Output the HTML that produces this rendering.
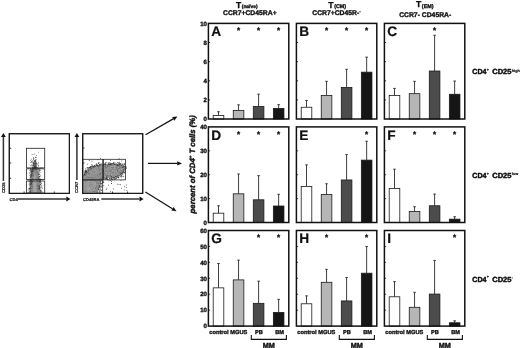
<!DOCTYPE html><html><head><meta charset="utf-8"><style>html,body{margin:0;padding:0;background:#fff}svg{display:block;filter:blur(.35px)}text{stroke:#111;stroke-width:.34px;stroke-linejoin:round}text.sm{stroke-width:.2px}</style></head><body><svg width="520" height="348" viewBox="0 0 520 348" font-family="Liberation Sans, Arial, sans-serif" font-weight="bold" fill="#111" text-rendering="geometricPrecision">
<rect width="520" height="348" fill="#fff"/>
<line x1="218.50" y1="115.46" x2="218.50" y2="111.73" stroke="#2a2a2a" stroke-width="0.9"/>
<line x1="217.20" y1="111.73" x2="219.80" y2="111.73" stroke="#2a2a2a" stroke-width="0.9"/>
<rect x="213.20" y="115.46" width="10.6" height="3.54" fill="#ffffff" stroke="#1a1a1a" stroke-width="0.8"/>
<line x1="238.55" y1="110.40" x2="238.55" y2="104.85" stroke="#2a2a2a" stroke-width="0.9"/>
<line x1="237.25" y1="104.85" x2="239.85" y2="104.85" stroke="#2a2a2a" stroke-width="0.9"/>
<rect x="233.25" y="110.40" width="10.6" height="8.60" fill="#b6b6b6" stroke="#1a1a1a" stroke-width="0.8"/>
<line x1="258.60" y1="106.57" x2="258.60" y2="94.14" stroke="#2a2a2a" stroke-width="0.9"/>
<line x1="257.30" y1="94.14" x2="259.90" y2="94.14" stroke="#2a2a2a" stroke-width="0.9"/>
<rect x="253.30" y="106.57" width="10.6" height="12.43" fill="#4c4c4c" stroke="#1a1a1a" stroke-width="0.8"/>
<line x1="278.65" y1="108.48" x2="278.65" y2="104.66" stroke="#2a2a2a" stroke-width="0.9"/>
<line x1="277.35" y1="104.66" x2="279.95" y2="104.66" stroke="#2a2a2a" stroke-width="0.9"/>
<rect x="273.35" y="108.48" width="10.6" height="10.52" fill="#151515" stroke="#1a1a1a" stroke-width="0.8"/>
<rect x="208.40" y="23.40" width="80.4" height="95.6" fill="none" stroke="#111" stroke-width="1.5"/>
<line x1="208.40" y1="99.88" x2="210.10" y2="99.88" stroke="#111" stroke-width="0.8"/>
<line x1="208.40" y1="80.76" x2="210.10" y2="80.76" stroke="#111" stroke-width="0.8"/>
<line x1="208.40" y1="61.64" x2="210.10" y2="61.64" stroke="#111" stroke-width="0.8"/>
<line x1="208.40" y1="42.52" x2="210.10" y2="42.52" stroke="#111" stroke-width="0.8"/>
<text x="211.25" y="36.30" font-size="13.7" style="stroke-width:.2px">A</text>
<text x="238.55" y="33.00" font-size="8" text-anchor="middle">*</text>
<text x="258.60" y="33.00" font-size="8" text-anchor="middle">*</text>
<text x="278.65" y="33.00" font-size="8" text-anchor="middle">*</text>
<line x1="306.50" y1="107.24" x2="306.50" y2="100.45" stroke="#2a2a2a" stroke-width="0.9"/>
<line x1="305.20" y1="100.45" x2="307.80" y2="100.45" stroke="#2a2a2a" stroke-width="0.9"/>
<rect x="301.20" y="107.24" width="10.6" height="11.76" fill="#ffffff" stroke="#1a1a1a" stroke-width="0.8"/>
<line x1="326.55" y1="95.48" x2="326.55" y2="81.33" stroke="#2a2a2a" stroke-width="0.9"/>
<line x1="325.25" y1="81.33" x2="327.85" y2="81.33" stroke="#2a2a2a" stroke-width="0.9"/>
<rect x="321.25" y="95.48" width="10.6" height="23.52" fill="#b6b6b6" stroke="#1a1a1a" stroke-width="0.8"/>
<line x1="346.60" y1="87.45" x2="346.60" y2="69.29" stroke="#2a2a2a" stroke-width="0.9"/>
<line x1="345.30" y1="69.29" x2="347.90" y2="69.29" stroke="#2a2a2a" stroke-width="0.9"/>
<rect x="341.30" y="87.45" width="10.6" height="31.55" fill="#4c4c4c" stroke="#1a1a1a" stroke-width="0.8"/>
<line x1="366.65" y1="72.16" x2="366.65" y2="57.15" stroke="#2a2a2a" stroke-width="0.9"/>
<line x1="365.35" y1="57.15" x2="367.95" y2="57.15" stroke="#2a2a2a" stroke-width="0.9"/>
<rect x="361.35" y="72.16" width="10.6" height="46.84" fill="#151515" stroke="#1a1a1a" stroke-width="0.8"/>
<rect x="296.40" y="23.40" width="80.4" height="95.6" fill="none" stroke="#111" stroke-width="1.5"/>
<line x1="296.40" y1="99.88" x2="298.10" y2="99.88" stroke="#111" stroke-width="0.8"/>
<line x1="296.40" y1="80.76" x2="298.10" y2="80.76" stroke="#111" stroke-width="0.8"/>
<line x1="296.40" y1="61.64" x2="298.10" y2="61.64" stroke="#111" stroke-width="0.8"/>
<line x1="296.40" y1="42.52" x2="298.10" y2="42.52" stroke="#111" stroke-width="0.8"/>
<text x="299.25" y="36.30" font-size="13.7" style="stroke-width:.2px">B</text>
<text x="326.55" y="33.00" font-size="8" text-anchor="middle">*</text>
<text x="346.60" y="33.00" font-size="8" text-anchor="middle">*</text>
<text x="366.65" y="33.00" font-size="8" text-anchor="middle">*</text>
<line x1="394.50" y1="95.48" x2="394.50" y2="88.41" stroke="#2a2a2a" stroke-width="0.9"/>
<line x1="393.20" y1="88.41" x2="395.80" y2="88.41" stroke="#2a2a2a" stroke-width="0.9"/>
<rect x="389.20" y="95.48" width="10.6" height="23.52" fill="#ffffff" stroke="#1a1a1a" stroke-width="0.8"/>
<line x1="414.55" y1="93.67" x2="414.55" y2="81.33" stroke="#2a2a2a" stroke-width="0.9"/>
<line x1="413.25" y1="81.33" x2="415.85" y2="81.33" stroke="#2a2a2a" stroke-width="0.9"/>
<rect x="409.25" y="93.67" width="10.6" height="25.33" fill="#b6b6b6" stroke="#1a1a1a" stroke-width="0.8"/>
<line x1="434.60" y1="71.01" x2="434.60" y2="35.25" stroke="#2a2a2a" stroke-width="0.9"/>
<line x1="433.30" y1="35.25" x2="435.90" y2="35.25" stroke="#2a2a2a" stroke-width="0.9"/>
<rect x="429.30" y="71.01" width="10.6" height="47.99" fill="#4c4c4c" stroke="#1a1a1a" stroke-width="0.8"/>
<line x1="454.65" y1="94.24" x2="454.65" y2="81.05" stroke="#2a2a2a" stroke-width="0.9"/>
<line x1="453.35" y1="81.05" x2="455.95" y2="81.05" stroke="#2a2a2a" stroke-width="0.9"/>
<rect x="449.35" y="94.24" width="10.6" height="24.76" fill="#151515" stroke="#1a1a1a" stroke-width="0.8"/>
<rect x="384.40" y="23.40" width="80.4" height="95.6" fill="none" stroke="#111" stroke-width="1.5"/>
<line x1="384.40" y1="99.88" x2="386.10" y2="99.88" stroke="#111" stroke-width="0.8"/>
<line x1="384.40" y1="80.76" x2="386.10" y2="80.76" stroke="#111" stroke-width="0.8"/>
<line x1="384.40" y1="61.64" x2="386.10" y2="61.64" stroke="#111" stroke-width="0.8"/>
<line x1="384.40" y1="42.52" x2="386.10" y2="42.52" stroke="#111" stroke-width="0.8"/>
<text x="387.25" y="36.30" font-size="13.7" style="stroke-width:.2px">C</text>
<text x="434.60" y="33.00" font-size="8" text-anchor="middle">*</text>
<text x="207.00" y="121.25" font-size="6.1" text-anchor="end">0</text>
<text x="207.00" y="102.13" font-size="6.1" text-anchor="end">2</text>
<text x="207.00" y="83.01" font-size="6.1" text-anchor="end">4</text>
<text x="207.00" y="63.89" font-size="6.1" text-anchor="end">6</text>
<text x="207.00" y="44.77" font-size="6.1" text-anchor="end">8</text>
<text x="207.00" y="25.65" font-size="6.1" text-anchor="end">10</text>
<line x1="218.50" y1="213.18" x2="218.50" y2="205.77" stroke="#2a2a2a" stroke-width="0.9"/>
<line x1="217.20" y1="205.77" x2="219.80" y2="205.77" stroke="#2a2a2a" stroke-width="0.9"/>
<rect x="213.20" y="213.18" width="10.6" height="9.32" fill="#ffffff" stroke="#1a1a1a" stroke-width="0.8"/>
<line x1="238.55" y1="193.82" x2="238.55" y2="173.98" stroke="#2a2a2a" stroke-width="0.9"/>
<line x1="237.25" y1="173.98" x2="239.85" y2="173.98" stroke="#2a2a2a" stroke-width="0.9"/>
<rect x="233.25" y="193.82" width="10.6" height="28.68" fill="#b6b6b6" stroke="#1a1a1a" stroke-width="0.8"/>
<line x1="258.60" y1="199.80" x2="258.60" y2="175.66" stroke="#2a2a2a" stroke-width="0.9"/>
<line x1="257.30" y1="175.66" x2="259.90" y2="175.66" stroke="#2a2a2a" stroke-width="0.9"/>
<rect x="253.30" y="199.80" width="10.6" height="22.70" fill="#4c4c4c" stroke="#1a1a1a" stroke-width="0.8"/>
<line x1="278.65" y1="206.01" x2="278.65" y2="194.30" stroke="#2a2a2a" stroke-width="0.9"/>
<line x1="277.35" y1="194.30" x2="279.95" y2="194.30" stroke="#2a2a2a" stroke-width="0.9"/>
<rect x="273.35" y="206.01" width="10.6" height="16.49" fill="#151515" stroke="#1a1a1a" stroke-width="0.8"/>
<rect x="208.40" y="126.90" width="80.4" height="95.6" fill="none" stroke="#111" stroke-width="1.5"/>
<line x1="208.40" y1="198.60" x2="210.10" y2="198.60" stroke="#111" stroke-width="0.8"/>
<line x1="208.40" y1="174.70" x2="210.10" y2="174.70" stroke="#111" stroke-width="0.8"/>
<line x1="208.40" y1="150.80" x2="210.10" y2="150.80" stroke="#111" stroke-width="0.8"/>
<text x="211.25" y="139.80" font-size="13.7" style="stroke-width:.2px">D</text>
<text x="238.55" y="136.50" font-size="8" text-anchor="middle">*</text>
<text x="258.60" y="136.50" font-size="8" text-anchor="middle">*</text>
<text x="278.65" y="136.50" font-size="8" text-anchor="middle">*</text>
<line x1="306.50" y1="186.41" x2="306.50" y2="164.90" stroke="#2a2a2a" stroke-width="0.9"/>
<line x1="305.20" y1="164.90" x2="307.80" y2="164.90" stroke="#2a2a2a" stroke-width="0.9"/>
<rect x="301.20" y="186.41" width="10.6" height="36.09" fill="#ffffff" stroke="#1a1a1a" stroke-width="0.8"/>
<line x1="326.55" y1="194.54" x2="326.55" y2="183.78" stroke="#2a2a2a" stroke-width="0.9"/>
<line x1="325.25" y1="183.78" x2="327.85" y2="183.78" stroke="#2a2a2a" stroke-width="0.9"/>
<rect x="321.25" y="194.54" width="10.6" height="27.96" fill="#b6b6b6" stroke="#1a1a1a" stroke-width="0.8"/>
<line x1="346.60" y1="179.96" x2="346.60" y2="154.62" stroke="#2a2a2a" stroke-width="0.9"/>
<line x1="345.30" y1="154.62" x2="347.90" y2="154.62" stroke="#2a2a2a" stroke-width="0.9"/>
<rect x="341.30" y="179.96" width="10.6" height="42.54" fill="#4c4c4c" stroke="#1a1a1a" stroke-width="0.8"/>
<line x1="366.65" y1="160.12" x2="366.65" y2="141.24" stroke="#2a2a2a" stroke-width="0.9"/>
<line x1="365.35" y1="141.24" x2="367.95" y2="141.24" stroke="#2a2a2a" stroke-width="0.9"/>
<rect x="361.35" y="160.12" width="10.6" height="62.38" fill="#151515" stroke="#1a1a1a" stroke-width="0.8"/>
<rect x="296.40" y="126.90" width="80.4" height="95.6" fill="none" stroke="#111" stroke-width="1.5"/>
<line x1="296.40" y1="198.60" x2="298.10" y2="198.60" stroke="#111" stroke-width="0.8"/>
<line x1="296.40" y1="174.70" x2="298.10" y2="174.70" stroke="#111" stroke-width="0.8"/>
<line x1="296.40" y1="150.80" x2="298.10" y2="150.80" stroke="#111" stroke-width="0.8"/>
<text x="299.25" y="139.80" font-size="13.7" style="stroke-width:.2px">E</text>
<text x="366.65" y="136.50" font-size="8" text-anchor="middle">*</text>
<line x1="394.50" y1="188.44" x2="394.50" y2="169.20" stroke="#2a2a2a" stroke-width="0.9"/>
<line x1="393.20" y1="169.20" x2="395.80" y2="169.20" stroke="#2a2a2a" stroke-width="0.9"/>
<rect x="389.20" y="188.44" width="10.6" height="34.06" fill="#ffffff" stroke="#1a1a1a" stroke-width="0.8"/>
<line x1="414.55" y1="211.51" x2="414.55" y2="206.73" stroke="#2a2a2a" stroke-width="0.9"/>
<line x1="413.25" y1="206.73" x2="415.85" y2="206.73" stroke="#2a2a2a" stroke-width="0.9"/>
<rect x="409.25" y="211.51" width="10.6" height="10.99" fill="#b6b6b6" stroke="#1a1a1a" stroke-width="0.8"/>
<line x1="434.60" y1="205.77" x2="434.60" y2="194.06" stroke="#2a2a2a" stroke-width="0.9"/>
<line x1="433.30" y1="194.06" x2="435.90" y2="194.06" stroke="#2a2a2a" stroke-width="0.9"/>
<rect x="429.30" y="205.77" width="10.6" height="16.73" fill="#4c4c4c" stroke="#1a1a1a" stroke-width="0.8"/>
<line x1="454.65" y1="219.15" x2="454.65" y2="216.76" stroke="#2a2a2a" stroke-width="0.9"/>
<line x1="453.35" y1="216.76" x2="455.95" y2="216.76" stroke="#2a2a2a" stroke-width="0.9"/>
<rect x="449.35" y="219.15" width="10.6" height="3.35" fill="#151515" stroke="#1a1a1a" stroke-width="0.8"/>
<rect x="384.40" y="126.90" width="80.4" height="95.6" fill="none" stroke="#111" stroke-width="1.5"/>
<line x1="384.40" y1="198.60" x2="386.10" y2="198.60" stroke="#111" stroke-width="0.8"/>
<line x1="384.40" y1="174.70" x2="386.10" y2="174.70" stroke="#111" stroke-width="0.8"/>
<line x1="384.40" y1="150.80" x2="386.10" y2="150.80" stroke="#111" stroke-width="0.8"/>
<text x="387.25" y="139.80" font-size="13.7" style="stroke-width:.2px">F</text>
<text x="414.55" y="136.50" font-size="8" text-anchor="middle">*</text>
<text x="434.60" y="136.50" font-size="8" text-anchor="middle">*</text>
<text x="454.65" y="136.50" font-size="8" text-anchor="middle">*</text>
<text x="207.00" y="224.75" font-size="6.1" text-anchor="end">0</text>
<text x="207.00" y="200.85" font-size="6.1" text-anchor="end">10</text>
<text x="207.00" y="176.95" font-size="6.1" text-anchor="end">20</text>
<text x="207.00" y="153.05" font-size="6.1" text-anchor="end">30</text>
<text x="207.00" y="129.15" font-size="6.1" text-anchor="end">40</text>
<line x1="218.50" y1="287.86" x2="218.50" y2="263.48" stroke="#2a2a2a" stroke-width="0.9"/>
<line x1="217.20" y1="263.48" x2="219.80" y2="263.48" stroke="#2a2a2a" stroke-width="0.9"/>
<rect x="213.20" y="287.86" width="10.6" height="38.24" fill="#ffffff" stroke="#1a1a1a" stroke-width="0.8"/>
<line x1="238.55" y1="279.89" x2="238.55" y2="260.14" stroke="#2a2a2a" stroke-width="0.9"/>
<line x1="237.25" y1="260.14" x2="239.85" y2="260.14" stroke="#2a2a2a" stroke-width="0.9"/>
<rect x="233.25" y="279.89" width="10.6" height="46.21" fill="#b6b6b6" stroke="#1a1a1a" stroke-width="0.8"/>
<line x1="258.60" y1="303.32" x2="258.60" y2="281.17" stroke="#2a2a2a" stroke-width="0.9"/>
<line x1="257.30" y1="281.17" x2="259.90" y2="281.17" stroke="#2a2a2a" stroke-width="0.9"/>
<rect x="253.30" y="303.32" width="10.6" height="22.78" fill="#4c4c4c" stroke="#1a1a1a" stroke-width="0.8"/>
<line x1="278.65" y1="312.40" x2="278.65" y2="299.33" stroke="#2a2a2a" stroke-width="0.9"/>
<line x1="277.35" y1="299.33" x2="279.95" y2="299.33" stroke="#2a2a2a" stroke-width="0.9"/>
<rect x="273.35" y="312.40" width="10.6" height="13.70" fill="#151515" stroke="#1a1a1a" stroke-width="0.8"/>
<rect x="208.40" y="230.50" width="80.4" height="95.6" fill="none" stroke="#111" stroke-width="1.5"/>
<line x1="208.40" y1="310.17" x2="210.10" y2="310.17" stroke="#111" stroke-width="0.8"/>
<line x1="208.40" y1="294.23" x2="210.10" y2="294.23" stroke="#111" stroke-width="0.8"/>
<line x1="208.40" y1="278.30" x2="210.10" y2="278.30" stroke="#111" stroke-width="0.8"/>
<line x1="208.40" y1="262.37" x2="210.10" y2="262.37" stroke="#111" stroke-width="0.8"/>
<line x1="208.40" y1="246.43" x2="210.10" y2="246.43" stroke="#111" stroke-width="0.8"/>
<text x="211.25" y="243.40" font-size="13.7" style="stroke-width:.2px">G</text>
<text x="258.60" y="240.10" font-size="8" text-anchor="middle">*</text>
<text x="278.65" y="240.10" font-size="8" text-anchor="middle">*</text>
<line x1="306.50" y1="303.79" x2="306.50" y2="295.83" stroke="#2a2a2a" stroke-width="0.9"/>
<line x1="305.20" y1="295.83" x2="307.80" y2="295.83" stroke="#2a2a2a" stroke-width="0.9"/>
<rect x="301.20" y="303.79" width="10.6" height="22.31" fill="#ffffff" stroke="#1a1a1a" stroke-width="0.8"/>
<line x1="326.55" y1="282.28" x2="326.55" y2="269.38" stroke="#2a2a2a" stroke-width="0.9"/>
<line x1="325.25" y1="269.38" x2="327.85" y2="269.38" stroke="#2a2a2a" stroke-width="0.9"/>
<rect x="321.25" y="282.28" width="10.6" height="43.82" fill="#b6b6b6" stroke="#1a1a1a" stroke-width="0.8"/>
<line x1="346.60" y1="300.93" x2="346.60" y2="277.50" stroke="#2a2a2a" stroke-width="0.9"/>
<line x1="345.30" y1="277.50" x2="347.90" y2="277.50" stroke="#2a2a2a" stroke-width="0.9"/>
<rect x="341.30" y="300.93" width="10.6" height="25.17" fill="#4c4c4c" stroke="#1a1a1a" stroke-width="0.8"/>
<line x1="366.65" y1="273.20" x2="366.65" y2="246.59" stroke="#2a2a2a" stroke-width="0.9"/>
<line x1="365.35" y1="246.59" x2="367.95" y2="246.59" stroke="#2a2a2a" stroke-width="0.9"/>
<rect x="361.35" y="273.20" width="10.6" height="52.90" fill="#151515" stroke="#1a1a1a" stroke-width="0.8"/>
<rect x="296.40" y="230.50" width="80.4" height="95.6" fill="none" stroke="#111" stroke-width="1.5"/>
<line x1="296.40" y1="310.17" x2="298.10" y2="310.17" stroke="#111" stroke-width="0.8"/>
<line x1="296.40" y1="294.23" x2="298.10" y2="294.23" stroke="#111" stroke-width="0.8"/>
<line x1="296.40" y1="278.30" x2="298.10" y2="278.30" stroke="#111" stroke-width="0.8"/>
<line x1="296.40" y1="262.37" x2="298.10" y2="262.37" stroke="#111" stroke-width="0.8"/>
<line x1="296.40" y1="246.43" x2="298.10" y2="246.43" stroke="#111" stroke-width="0.8"/>
<text x="299.25" y="243.40" font-size="13.7" style="stroke-width:.2px">H</text>
<text x="326.55" y="240.10" font-size="8" text-anchor="middle">*</text>
<text x="366.65" y="240.10" font-size="8" text-anchor="middle">*</text>
<line x1="394.50" y1="296.78" x2="394.50" y2="281.65" stroke="#2a2a2a" stroke-width="0.9"/>
<line x1="393.20" y1="281.65" x2="395.80" y2="281.65" stroke="#2a2a2a" stroke-width="0.9"/>
<rect x="389.20" y="296.78" width="10.6" height="29.32" fill="#ffffff" stroke="#1a1a1a" stroke-width="0.8"/>
<line x1="414.55" y1="307.30" x2="414.55" y2="292.32" stroke="#2a2a2a" stroke-width="0.9"/>
<line x1="413.25" y1="292.32" x2="415.85" y2="292.32" stroke="#2a2a2a" stroke-width="0.9"/>
<rect x="409.25" y="307.30" width="10.6" height="18.80" fill="#b6b6b6" stroke="#1a1a1a" stroke-width="0.8"/>
<line x1="434.60" y1="294.07" x2="434.60" y2="260.45" stroke="#2a2a2a" stroke-width="0.9"/>
<line x1="433.30" y1="260.45" x2="435.90" y2="260.45" stroke="#2a2a2a" stroke-width="0.9"/>
<rect x="429.30" y="294.07" width="10.6" height="32.03" fill="#4c4c4c" stroke="#1a1a1a" stroke-width="0.8"/>
<line x1="454.65" y1="322.75" x2="454.65" y2="320.84" stroke="#2a2a2a" stroke-width="0.9"/>
<line x1="453.35" y1="320.84" x2="455.95" y2="320.84" stroke="#2a2a2a" stroke-width="0.9"/>
<rect x="449.35" y="322.75" width="10.6" height="3.35" fill="#151515" stroke="#1a1a1a" stroke-width="0.8"/>
<rect x="384.40" y="230.50" width="80.4" height="95.6" fill="none" stroke="#111" stroke-width="1.5"/>
<line x1="384.40" y1="310.17" x2="386.10" y2="310.17" stroke="#111" stroke-width="0.8"/>
<line x1="384.40" y1="294.23" x2="386.10" y2="294.23" stroke="#111" stroke-width="0.8"/>
<line x1="384.40" y1="278.30" x2="386.10" y2="278.30" stroke="#111" stroke-width="0.8"/>
<line x1="384.40" y1="262.37" x2="386.10" y2="262.37" stroke="#111" stroke-width="0.8"/>
<line x1="384.40" y1="246.43" x2="386.10" y2="246.43" stroke="#111" stroke-width="0.8"/>
<text x="387.25" y="243.40" font-size="13.7" style="stroke-width:.2px">I</text>
<text x="454.65" y="240.10" font-size="8" text-anchor="middle">*</text>
<text x="207.00" y="328.35" font-size="6.1" text-anchor="end">0</text>
<text x="207.00" y="312.42" font-size="6.1" text-anchor="end">10</text>
<text x="207.00" y="296.48" font-size="6.1" text-anchor="end">20</text>
<text x="207.00" y="280.55" font-size="6.1" text-anchor="end">30</text>
<text x="207.00" y="264.62" font-size="6.1" text-anchor="end">40</text>
<text x="207.00" y="248.68" font-size="6.1" text-anchor="end">50</text>
<text x="207.00" y="232.75" font-size="6.1" text-anchor="end">60</text>
<text x="209.30" y="334.3" font-size="5.7">control</text>
<text x="230.30" y="334.3" font-size="5.7">MGUS</text>
<text x="255.00" y="334.3" font-size="5.7">PB</text>
<text x="275.20" y="334.3" font-size="5.7">BM</text>
<path d="M251.30 335 V339.4 H286.40 V335" fill="none" stroke="#111" stroke-width="1.1"/>
<text x="268.85" y="347.7" font-size="7.3" text-anchor="middle" style="stroke-width:.4px">MM</text>
<text x="297.30" y="334.3" font-size="5.7">control</text>
<text x="318.30" y="334.3" font-size="5.7">MGUS</text>
<text x="343.00" y="334.3" font-size="5.7">PB</text>
<text x="363.20" y="334.3" font-size="5.7">BM</text>
<path d="M339.30 335 V339.4 H374.40 V335" fill="none" stroke="#111" stroke-width="1.1"/>
<text x="356.85" y="347.7" font-size="7.3" text-anchor="middle" style="stroke-width:.4px">MM</text>
<text x="385.30" y="334.3" font-size="5.7">control</text>
<text x="406.30" y="334.3" font-size="5.7">MGUS</text>
<text x="431.00" y="334.3" font-size="5.7">PB</text>
<text x="451.20" y="334.3" font-size="5.7">BM</text>
<path d="M427.30 335 V339.4 H462.40 V335" fill="none" stroke="#111" stroke-width="1.1"/>
<text x="444.85" y="347.7" font-size="7.3" text-anchor="middle" style="stroke-width:.4px">MM</text>
<text x="236" y="7.8" font-size="8.6">T<tspan font-size="4.9" dy="0.3" dx="0.5">(naïve)</tspan></text>
<text x="249.8" y="15.3" font-size="6.8" text-anchor="middle">CCR7+CD45RA+</text>
<text x="328.3" y="7.8" font-size="8.6">T<tspan font-size="5.4" dy="0.3" dx="0.6">(CM)</tspan></text>
<text x="336.5" y="15.3" font-size="6.8" text-anchor="middle">CCR7+CD45R-<tspan font-size="4.5" dy="-2">-</tspan></text>
<text x="416" y="7.4" font-size="8.6">T<tspan font-size="5.4" dy="0.7" dx="0.6">(EM)</tspan></text>
<text x="425.2" y="17" font-size="6.8" text-anchor="middle">CCR7- CD45RA-</text>
<text style="stroke-width:.45px" x="472.3" y="74.40" font-size="7.4" textLength="14.2" lengthAdjust="spacingAndGlyphs">CD4</text>
<text class="sm" x="486.7" y="71.30" font-size="3.7">+</text>
<text style="stroke-width:.45px" x="492.2" y="74.40" font-size="7.4" textLength="19.3" lengthAdjust="spacingAndGlyphs">CD25</text>
<text class="sm" x="511.8" y="71.50" font-size="3.8">high</text>
<text style="stroke-width:.45px" x="472.3" y="177.90" font-size="7.4" textLength="14.2" lengthAdjust="spacingAndGlyphs">CD4</text>
<text class="sm" x="486.7" y="174.80" font-size="3.7">+</text>
<text style="stroke-width:.45px" x="492.2" y="177.90" font-size="7.4" textLength="19.3" lengthAdjust="spacingAndGlyphs">CD25</text>
<text class="sm" x="511.8" y="175.00" font-size="3.8">low</text>
<text style="stroke-width:.45px" x="472.3" y="281.50" font-size="7.4" textLength="14.2" lengthAdjust="spacingAndGlyphs">CD4</text>
<text class="sm" x="486.7" y="278.40" font-size="3.7">+</text>
<text style="stroke-width:.45px" x="492.2" y="281.50" font-size="7.4" textLength="19.3" lengthAdjust="spacingAndGlyphs">CD25</text>
<text class="sm" x="511.8" y="278.60" font-size="3.8">-</text>
<text transform="translate(194.9 164.3) rotate(-90)" font-size="7.75" style="stroke-width:.42px" font-style="italic" text-anchor="middle">percent of CD4<tspan font-size="4.4" dy="-2.8">+</tspan><tspan dy="2.8"> T cells (%)</tspan></text>
<line x1="145.60" y1="134.70" x2="173.23" y2="118.88" stroke="#111" stroke-width="1.2"/>
<polygon points="177.40,116.50 174.28,120.71 172.19,117.06" fill="#111"/>
<line x1="147.90" y1="163.40" x2="177.20" y2="163.40" stroke="#111" stroke-width="1.2"/>
<polygon points="182.00,163.40 177.20,165.50 177.20,161.30" fill="#111"/>
<line x1="145.40" y1="191.90" x2="172.42" y2="208.67" stroke="#111" stroke-width="1.2"/>
<polygon points="176.50,211.20 171.31,210.45 173.53,206.88" fill="#111"/>
<rect x="9.3" y="133.7" width="60.10000000000001" height="59.70000000000002" fill="#fff" stroke="#1c1c1c" stroke-width="1.1"/>
<path d="M29.6 193 L30.2 182 Q30.6 174 31.8 168.5 Q33 164 33.8 160 L35.6 160 Q36.4 164 37.4 168.5 Q39 174 39.6 182 L40.2 193 Z" fill="#8a8a8a"/>
<path d="M33.2 192 Q33 178 34.8 171.5 Q36.6 178 36.6 192 Z" fill="#a4a4a4"/>
<g fill="#3a3a3a">
<rect x="31.0" y="176.0" width="0.7" height="0.7"/>
<rect x="29.7" y="188.2" width="0.7" height="0.7"/>
<rect x="30.1" y="177.0" width="0.7" height="0.7"/>
<rect x="38.3" y="170.1" width="0.7" height="0.7"/>
<rect x="31.5" y="169.7" width="0.7" height="0.7"/>
<rect x="30.5" y="181.9" width="0.7" height="0.7"/>
<rect x="31.1" y="183.5" width="0.7" height="0.7"/>
<rect x="30.1" y="192.0" width="0.7" height="0.7"/>
<rect x="30.5" y="181.7" width="0.7" height="0.7"/>
<rect x="39.2" y="170.9" width="0.7" height="0.7"/>
<rect x="29.3" y="181.8" width="0.7" height="0.7"/>
<rect x="30.2" y="172.6" width="0.7" height="0.7"/>
<rect x="31.7" y="181.5" width="0.7" height="0.7"/>
<rect x="38.8" y="180.2" width="0.7" height="0.7"/>
<rect x="38.9" y="187.1" width="0.7" height="0.7"/>
<rect x="31.4" y="175.4" width="0.7" height="0.7"/>
<rect x="29.4" y="185.2" width="0.7" height="0.7"/>
<rect x="39.7" y="180.2" width="0.7" height="0.7"/>
<rect x="39.4" y="185.9" width="0.7" height="0.7"/>
<rect x="30.7" y="180.6" width="0.7" height="0.7"/>
<rect x="29.1" y="186.6" width="0.7" height="0.7"/>
<rect x="30.1" y="191.7" width="0.7" height="0.7"/>
<rect x="39.3" y="186.8" width="0.7" height="0.7"/>
<rect x="40.1" y="180.2" width="0.7" height="0.7"/>
<rect x="30.1" y="169.7" width="0.7" height="0.7"/>
<rect x="30.6" y="184.3" width="0.7" height="0.7"/>
<rect x="37.8" y="186.0" width="0.7" height="0.7"/>
<rect x="37.4" y="188.2" width="0.7" height="0.7"/>
<rect x="40.8" y="185.6" width="0.7" height="0.7"/>
<rect x="30.9" y="172.1" width="0.7" height="0.7"/>
<rect x="30.4" y="180.1" width="0.7" height="0.7"/>
<rect x="38.4" y="174.1" width="0.7" height="0.7"/>
<rect x="41.0" y="190.6" width="0.7" height="0.7"/>
<rect x="29.9" y="181.5" width="0.7" height="0.7"/>
<rect x="39.1" y="188.2" width="0.7" height="0.7"/>
<rect x="36.8" y="184.8" width="0.7" height="0.7"/>
<rect x="29.2" y="191.6" width="0.7" height="0.7"/>
<rect x="29.9" y="184.2" width="0.7" height="0.7"/>
<rect x="30.5" y="179.9" width="0.7" height="0.7"/>
<rect x="39.3" y="178.3" width="0.7" height="0.7"/>
<rect x="41.0" y="183.0" width="0.7" height="0.7"/>
<rect x="30.9" y="180.7" width="0.7" height="0.7"/>
<rect x="38.5" y="179.2" width="0.7" height="0.7"/>
<rect x="39.9" y="179.8" width="0.7" height="0.7"/>
<rect x="30.1" y="169.5" width="0.7" height="0.7"/>
<rect x="31.2" y="170.7" width="0.7" height="0.7"/>
<rect x="33.5" y="170.5" width="0.7" height="0.7"/>
<rect x="30.8" y="183.1" width="0.7" height="0.7"/>
<rect x="40.4" y="189.5" width="0.7" height="0.7"/>
<rect x="39.7" y="176.5" width="0.7" height="0.7"/>
<rect x="28.7" y="179.7" width="0.7" height="0.7"/>
<rect x="36.7" y="179.5" width="0.7" height="0.7"/>
<rect x="30.0" y="175.7" width="0.7" height="0.7"/>
<rect x="30.3" y="174.5" width="0.7" height="0.7"/>
<rect x="29.3" y="180.7" width="0.7" height="0.7"/>
<rect x="31.4" y="171.6" width="0.7" height="0.7"/>
<rect x="41.7" y="186.7" width="0.7" height="0.7"/>
<rect x="39.4" y="185.1" width="0.7" height="0.7"/>
<rect x="30.9" y="180.8" width="0.7" height="0.7"/>
<rect x="40.0" y="181.3" width="0.7" height="0.7"/>
<rect x="29.6" y="183.7" width="0.7" height="0.7"/>
<rect x="31.8" y="186.2" width="0.7" height="0.7"/>
<rect x="38.7" y="172.9" width="0.7" height="0.7"/>
<rect x="38.7" y="168.7" width="0.7" height="0.7"/>
<rect x="31.4" y="179.6" width="0.7" height="0.7"/>
<rect x="36.9" y="179.0" width="0.7" height="0.7"/>
<rect x="40.5" y="191.5" width="0.7" height="0.7"/>
<rect x="39.5" y="179.6" width="0.7" height="0.7"/>
<rect x="32.4" y="173.0" width="0.7" height="0.7"/>
<rect x="29.8" y="187.7" width="0.7" height="0.7"/>
<rect x="28.4" y="188.5" width="0.7" height="0.7"/>
<rect x="38.8" y="186.5" width="0.7" height="0.7"/>
<rect x="40.2" y="189.9" width="0.7" height="0.7"/>
<rect x="39.0" y="187.7" width="0.7" height="0.7"/>
<rect x="30.6" y="179.4" width="0.7" height="0.7"/>
<rect x="31.7" y="171.1" width="0.7" height="0.7"/>
<rect x="39.7" y="182.5" width="0.7" height="0.7"/>
<rect x="39.4" y="188.3" width="0.7" height="0.7"/>
<rect x="40.3" y="184.2" width="0.7" height="0.7"/>
<rect x="30.2" y="168.5" width="0.7" height="0.7"/>
<rect x="32.3" y="181.0" width="0.7" height="0.7"/>
<rect x="29.1" y="188.3" width="0.7" height="0.7"/>
<rect x="31.5" y="168.7" width="0.7" height="0.7"/>
<rect x="40.2" y="182.4" width="0.7" height="0.7"/>
<rect x="28.9" y="181.4" width="0.7" height="0.7"/>
<rect x="40.6" y="190.1" width="0.7" height="0.7"/>
<rect x="31.1" y="188.3" width="0.7" height="0.7"/>
<rect x="38.3" y="168.5" width="0.7" height="0.7"/>
<rect x="29.9" y="187.1" width="0.7" height="0.7"/>
<rect x="31.6" y="171.5" width="0.7" height="0.7"/>
<rect x="38.9" y="181.7" width="0.7" height="0.7"/>
<rect x="31.6" y="179.9" width="0.7" height="0.7"/>
<rect x="29.8" y="189.7" width="0.7" height="0.7"/>
<rect x="40.6" y="187.0" width="0.7" height="0.7"/>
<rect x="31.7" y="181.8" width="0.7" height="0.7"/>
<rect x="30.0" y="180.4" width="0.7" height="0.7"/>
<rect x="37.8" y="185.0" width="0.7" height="0.7"/>
<rect x="30.5" y="180.5" width="0.7" height="0.7"/>
<rect x="41.5" y="185.2" width="0.7" height="0.7"/>
<rect x="37.9" y="173.0" width="0.7" height="0.7"/>
<rect x="31.8" y="171.4" width="0.7" height="0.7"/>
<rect x="40.2" y="184.5" width="0.7" height="0.7"/>
<rect x="39.1" y="169.8" width="0.7" height="0.7"/>
<rect x="36.7" y="171.8" width="0.7" height="0.7"/>
<rect x="30.4" y="171.5" width="0.7" height="0.7"/>
<rect x="40.0" y="191.4" width="0.7" height="0.7"/>
<rect x="27.9" y="189.8" width="0.7" height="0.7"/>
<rect x="38.6" y="172.0" width="0.7" height="0.7"/>
<rect x="39.8" y="192.5" width="0.7" height="0.7"/>
<rect x="39.6" y="175.8" width="0.7" height="0.7"/>
<rect x="38.4" y="168.5" width="0.7" height="0.7"/>
<rect x="39.1" y="176.2" width="0.7" height="0.7"/>
<rect x="28.7" y="180.6" width="0.7" height="0.7"/>
<rect x="29.5" y="173.6" width="0.7" height="0.7"/>
<rect x="40.3" y="170.1" width="0.7" height="0.7"/>
<rect x="30.4" y="174.7" width="0.7" height="0.7"/>
<rect x="38.8" y="188.2" width="0.7" height="0.7"/>
<rect x="40.1" y="180.7" width="0.7" height="0.7"/>
<rect x="30.5" y="185.2" width="0.7" height="0.7"/>
<rect x="29.2" y="172.5" width="0.7" height="0.7"/>
<rect x="32.0" y="174.6" width="0.7" height="0.7"/>
<rect x="32.5" y="170.1" width="0.7" height="0.7"/>
<rect x="32.1" y="169.6" width="0.7" height="0.7"/>
<rect x="39.7" y="181.6" width="0.7" height="0.7"/>
<rect x="31.0" y="183.3" width="0.7" height="0.7"/>
<rect x="31.2" y="170.7" width="0.7" height="0.7"/>
<rect x="30.6" y="174.4" width="0.7" height="0.7"/>
<rect x="30.0" y="175.5" width="0.7" height="0.7"/>
<rect x="31.0" y="175.1" width="0.7" height="0.7"/>
<rect x="27.8" y="192.5" width="0.7" height="0.7"/>
<rect x="32.0" y="168.4" width="0.7" height="0.7"/>
<rect x="39.2" y="179.0" width="0.7" height="0.7"/>
<rect x="40.4" y="184.2" width="0.7" height="0.7"/>
<rect x="31.1" y="173.3" width="0.7" height="0.7"/>
<rect x="31.5" y="176.4" width="0.7" height="0.7"/>
<rect x="30.7" y="169.3" width="0.7" height="0.7"/>
<rect x="38.2" y="168.4" width="0.7" height="0.7"/>
<rect x="39.8" y="184.4" width="0.7" height="0.7"/>
<rect x="38.7" y="189.4" width="0.7" height="0.7"/>
<rect x="32.1" y="169.1" width="0.7" height="0.7"/>
<rect x="39.7" y="171.9" width="0.7" height="0.7"/>
<rect x="39.1" y="176.1" width="0.7" height="0.7"/>
<rect x="39.0" y="174.0" width="0.7" height="0.7"/>
<rect x="30.1" y="176.2" width="0.7" height="0.7"/>
<rect x="30.5" y="179.7" width="0.7" height="0.7"/>
<rect x="29.4" y="170.2" width="0.7" height="0.7"/>
<rect x="31.7" y="171.5" width="0.7" height="0.7"/>
<rect x="29.7" y="183.5" width="0.7" height="0.7"/>
<rect x="31.2" y="182.4" width="0.7" height="0.7"/>
<rect x="38.6" y="189.6" width="0.7" height="0.7"/>
<rect x="40.7" y="186.8" width="0.7" height="0.7"/>
<rect x="28.9" y="183.8" width="0.7" height="0.7"/>
<rect x="39.7" y="188.3" width="0.7" height="0.7"/>
<rect x="32.9" y="171.4" width="0.7" height="0.7"/>
<rect x="29.7" y="188.3" width="0.7" height="0.7"/>
<rect x="30.1" y="183.7" width="0.7" height="0.7"/>
<rect x="37.8" y="177.3" width="0.7" height="0.7"/>
<rect x="30.8" y="183.4" width="0.7" height="0.7"/>
<rect x="30.8" y="180.0" width="0.7" height="0.7"/>
<rect x="29.6" y="190.9" width="0.7" height="0.7"/>
<rect x="30.2" y="184.2" width="0.7" height="0.7"/>
<rect x="38.7" y="187.9" width="0.7" height="0.7"/>
<rect x="30.7" y="173.8" width="0.7" height="0.7"/>
<rect x="40.7" y="179.3" width="0.7" height="0.7"/>
<rect x="38.8" y="169.9" width="0.7" height="0.7"/>
<rect x="31.6" y="183.8" width="0.7" height="0.7"/>
<rect x="39.5" y="182.8" width="0.7" height="0.7"/>
<rect x="29.1" y="175.5" width="0.7" height="0.7"/>
<rect x="33.9" y="168.3" width="0.7" height="0.7"/>
<rect x="30.9" y="170.4" width="0.7" height="0.7"/>
<rect x="39.4" y="184.6" width="0.7" height="0.7"/>
<rect x="31.3" y="179.5" width="0.7" height="0.7"/>
<rect x="29.8" y="192.4" width="0.7" height="0.7"/>
<rect x="39.7" y="179.6" width="0.7" height="0.7"/>
<rect x="40.3" y="179.3" width="0.7" height="0.7"/>
<rect x="29.8" y="190.5" width="0.7" height="0.7"/>
<rect x="30.4" y="169.8" width="0.7" height="0.7"/>
<rect x="28.8" y="191.4" width="0.7" height="0.7"/>
<rect x="40.7" y="182.8" width="0.7" height="0.7"/>
<rect x="37.9" y="173.7" width="0.7" height="0.7"/>
<rect x="29.5" y="177.7" width="0.7" height="0.7"/>
<rect x="39.3" y="179.1" width="0.7" height="0.7"/>
<rect x="39.2" y="185.9" width="0.7" height="0.7"/>
<rect x="29.2" y="188.7" width="0.7" height="0.7"/>
<rect x="39.3" y="176.0" width="0.7" height="0.7"/>
<rect x="30.2" y="190.8" width="0.7" height="0.7"/>
<rect x="40.0" y="190.2" width="0.7" height="0.7"/>
<rect x="30.3" y="177.6" width="0.7" height="0.7"/>
<rect x="39.2" y="176.9" width="0.7" height="0.7"/>
<rect x="32.8" y="174.9" width="0.7" height="0.7"/>
<rect x="39.5" y="188.5" width="0.7" height="0.7"/>
<rect x="39.7" y="191.9" width="0.7" height="0.7"/>
<rect x="30.2" y="180.6" width="0.7" height="0.7"/>
<rect x="32.3" y="178.5" width="0.7" height="0.7"/>
<rect x="41.9" y="188.0" width="0.7" height="0.7"/>
<rect x="31.6" y="181.5" width="0.7" height="0.7"/>
<rect x="37.0" y="169.2" width="0.7" height="0.7"/>
<rect x="40.1" y="183.9" width="0.7" height="0.7"/>
<rect x="30.0" y="179.9" width="0.7" height="0.7"/>
<rect x="39.9" y="174.9" width="0.7" height="0.7"/>
<rect x="39.1" y="186.2" width="0.7" height="0.7"/>
<rect x="39.7" y="179.9" width="0.7" height="0.7"/>
<rect x="30.1" y="170.9" width="0.7" height="0.7"/>
<rect x="29.4" y="188.0" width="0.7" height="0.7"/>
<rect x="40.4" y="179.1" width="0.7" height="0.7"/>
<rect x="31.1" y="171.4" width="0.7" height="0.7"/>
<rect x="31.1" y="174.0" width="0.7" height="0.7"/>
<rect x="39.3" y="173.9" width="0.7" height="0.7"/>
<rect x="28.7" y="187.9" width="0.7" height="0.7"/>
<rect x="38.1" y="178.2" width="0.7" height="0.7"/>
<rect x="30.7" y="186.3" width="0.7" height="0.7"/>
<rect x="39.2" y="169.5" width="0.7" height="0.7"/>
<rect x="40.3" y="182.1" width="0.7" height="0.7"/>
<rect x="29.4" y="183.5" width="0.7" height="0.7"/>
<rect x="32.2" y="170.3" width="0.7" height="0.7"/>
<rect x="40.2" y="178.6" width="0.7" height="0.7"/>
<rect x="29.1" y="188.9" width="0.7" height="0.7"/>
<rect x="40.5" y="186.8" width="0.7" height="0.7"/>
<rect x="41.1" y="191.8" width="0.7" height="0.7"/>
<rect x="40.1" y="190.8" width="0.7" height="0.7"/>
<rect x="29.5" y="191.9" width="0.7" height="0.7"/>
<rect x="31.7" y="171.7" width="0.7" height="0.7"/>
<rect x="41.6" y="191.2" width="0.7" height="0.7"/>
<rect x="30.4" y="168.0" width="0.7" height="0.7"/>
<rect x="31.4" y="173.7" width="0.7" height="0.7"/>
<rect x="38.0" y="171.1" width="0.7" height="0.7"/>
<rect x="39.2" y="181.0" width="0.7" height="0.7"/>
<rect x="31.6" y="169.7" width="0.7" height="0.7"/>
<rect x="30.6" y="177.5" width="0.7" height="0.7"/>
<rect x="39.4" y="181.2" width="0.7" height="0.7"/>
<rect x="34.2" y="163.0" width="0.7" height="0.7"/>
<rect x="35.5" y="164.6" width="0.7" height="0.7"/>
<rect x="31.7" y="167.6" width="0.7" height="0.7"/>
<rect x="36.9" y="167.7" width="0.7" height="0.7"/>
<rect x="34.1" y="167.1" width="0.7" height="0.7"/>
<rect x="36.2" y="155.3" width="0.7" height="0.7"/>
<rect x="34.0" y="166.7" width="0.7" height="0.7"/>
<rect x="34.9" y="161.7" width="0.7" height="0.7"/>
<rect x="32.8" y="163.1" width="0.7" height="0.7"/>
<rect x="33.4" y="158.5" width="0.7" height="0.7"/>
<rect x="33.1" y="163.6" width="0.7" height="0.7"/>
<rect x="36.5" y="168.8" width="0.7" height="0.7"/>
<rect x="35.1" y="166.8" width="0.7" height="0.7"/>
<rect x="33.1" y="168.9" width="0.7" height="0.7"/>
<rect x="34.8" y="164.4" width="0.7" height="0.7"/>
<rect x="32.8" y="167.8" width="0.7" height="0.7"/>
<rect x="35.4" y="166.8" width="0.7" height="0.7"/>
<rect x="32.3" y="162.3" width="0.7" height="0.7"/>
<rect x="36.7" y="164.1" width="0.7" height="0.7"/>
<rect x="35.3" y="167.7" width="0.7" height="0.7"/>
<rect x="30.3" y="160.1" width="0.7" height="0.7"/>
<rect x="35.1" y="168.5" width="0.7" height="0.7"/>
<rect x="32.6" y="164.9" width="0.7" height="0.7"/>
<rect x="34.2" y="164.7" width="0.7" height="0.7"/>
<rect x="31.2" y="165.6" width="0.7" height="0.7"/>
<rect x="34.2" y="165.8" width="0.7" height="0.7"/>
<rect x="35.8" y="167.0" width="0.7" height="0.7"/>
<rect x="35.8" y="159.5" width="0.7" height="0.7"/>
<rect x="32.0" y="167.8" width="0.7" height="0.7"/>
<rect x="33.2" y="158.6" width="0.7" height="0.7"/>
<rect x="38.1" y="151.8" width="0.7" height="0.7"/>
<rect x="33.6" y="167.8" width="0.7" height="0.7"/>
<rect x="35.4" y="167.6" width="0.7" height="0.7"/>
<rect x="30.4" y="162.0" width="0.7" height="0.7"/>
<rect x="31.0" y="164.6" width="0.7" height="0.7"/>
<rect x="31.7" y="160.8" width="0.7" height="0.7"/>
<rect x="33.1" y="157.2" width="0.7" height="0.7"/>
<rect x="37.7" y="163.3" width="0.7" height="0.7"/>
<rect x="35.6" y="160.8" width="0.7" height="0.7"/>
<rect x="32.7" y="167.0" width="0.7" height="0.7"/>
<rect x="34.4" y="161.1" width="0.7" height="0.7"/>
<rect x="33.4" y="165.1" width="0.7" height="0.7"/>
<rect x="32.9" y="163.9" width="0.7" height="0.7"/>
<rect x="32.8" y="163.5" width="0.7" height="0.7"/>
<rect x="34.9" y="166.6" width="0.7" height="0.7"/>
<rect x="34.9" y="166.6" width="0.7" height="0.7"/>
<rect x="32.9" y="164.9" width="0.7" height="0.7"/>
<rect x="31.7" y="154.1" width="0.7" height="0.7"/>
<rect x="38.3" y="165.9" width="0.7" height="0.7"/>
<rect x="32.7" y="154.2" width="0.7" height="0.7"/>
<rect x="33.5" y="158.3" width="0.7" height="0.7"/>
<rect x="31.2" y="161.8" width="0.7" height="0.7"/>
<rect x="35.4" y="168.2" width="0.7" height="0.7"/>
<rect x="35.1" y="166.0" width="0.7" height="0.7"/>
<rect x="34.0" y="161.3" width="0.7" height="0.7"/>
<rect x="35.3" y="156.8" width="0.7" height="0.7"/>
<rect x="38.2" y="162.4" width="0.7" height="0.7"/>
<rect x="36.4" y="162.9" width="0.7" height="0.7"/>
<rect x="39.9" y="168.1" width="0.7" height="0.7"/>
<rect x="33.4" y="158.9" width="0.7" height="0.7"/>
<rect x="35.6" y="164.8" width="0.7" height="0.7"/>
<rect x="36.2" y="163.0" width="0.7" height="0.7"/>
<rect x="35.3" y="159.8" width="0.7" height="0.7"/>
<rect x="32.3" y="168.5" width="0.7" height="0.7"/>
<rect x="35.9" y="163.0" width="0.7" height="0.7"/>
<rect x="33.0" y="162.5" width="0.7" height="0.7"/>
<rect x="33.3" y="167.9" width="0.7" height="0.7"/>
<rect x="33.6" y="167.5" width="0.7" height="0.7"/>
<rect x="37.5" y="164.7" width="0.7" height="0.7"/>
<rect x="35.2" y="161.9" width="0.7" height="0.7"/>
<rect x="40.7" y="167.6" width="0.7" height="0.7"/>
<rect x="35.2" y="165.7" width="0.7" height="0.7"/>
<rect x="29.9" y="165.4" width="0.7" height="0.7"/>
<rect x="34.9" y="160.3" width="0.7" height="0.7"/>
<rect x="35.2" y="157.3" width="0.7" height="0.7"/>
<rect x="35.0" y="163.3" width="0.7" height="0.7"/>
<rect x="34.3" y="163.6" width="0.7" height="0.7"/>
<rect x="34.6" y="163.6" width="0.7" height="0.7"/>
<rect x="33.2" y="167.3" width="0.7" height="0.7"/>
<rect x="34.8" y="163.3" width="0.7" height="0.7"/>
<rect x="35.8" y="166.5" width="0.7" height="0.7"/>
<rect x="36.2" y="166.9" width="0.7" height="0.7"/>
<rect x="34.7" y="160.4" width="0.7" height="0.7"/>
<rect x="34.0" y="166.4" width="0.7" height="0.7"/>
<rect x="34.0" y="168.6" width="0.7" height="0.7"/>
<rect x="39.4" y="168.6" width="0.7" height="0.7"/>
<rect x="34.9" y="161.4" width="0.7" height="0.7"/>
<rect x="31.3" y="158.8" width="0.7" height="0.7"/>
<rect x="34.7" y="166.8" width="0.7" height="0.7"/>
<rect x="31.1" y="161.2" width="0.7" height="0.7"/>
<rect x="34.9" y="166.4" width="0.7" height="0.7"/>
<rect x="33.2" y="168.7" width="0.7" height="0.7"/>
<rect x="31.4" y="161.7" width="0.7" height="0.7"/>
<rect x="34.5" y="168.3" width="0.7" height="0.7"/>
<rect x="32.2" y="160.6" width="0.7" height="0.7"/>
<rect x="34.2" y="167.4" width="0.7" height="0.7"/>
<rect x="34.2" y="167.2" width="0.7" height="0.7"/>
<rect x="35.2" y="169.0" width="0.7" height="0.7"/>
<rect x="34.0" y="153.6" width="0.7" height="0.7"/>
<rect x="36.3" y="157.1" width="0.7" height="0.7"/>
<rect x="32.7" y="165.3" width="0.7" height="0.7"/>
<rect x="33.9" y="167.1" width="0.7" height="0.7"/>
<rect x="37.2" y="167.4" width="0.7" height="0.7"/>
<rect x="32.3" y="168.3" width="0.7" height="0.7"/>
<rect x="35.6" y="159.1" width="0.7" height="0.7"/>
<rect x="36.2" y="161.9" width="0.7" height="0.7"/>
<rect x="33.3" y="163.2" width="0.7" height="0.7"/>
<rect x="33.4" y="162.7" width="0.7" height="0.7"/>
<rect x="38.2" y="165.3" width="0.7" height="0.7"/>
</g>
<rect x="9.3" y="133.7" width="60.1" height="59.7" fill="none" stroke="#1c1c1c" stroke-width="1.1"/>
<rect x="26.5" y="148.3" width="18.2" height="19.60" fill="none" stroke="#2c2c2c" stroke-width="0.85"/>
<rect x="26.5" y="168.8" width="18.2" height="10.70" fill="none" stroke="#2c2c2c" stroke-width="0.85"/>
<rect x="26.5" y="181" width="18.2" height="12.00" fill="none" stroke="#2c2c2c" stroke-width="0.85"/>
<line x1="9.3" x2="11.2" y1="148.3" y2="148.3" stroke="#1c1c1c" stroke-width="0.9"/>
<line x1="9.3" x2="11.2" y1="163" y2="163" stroke="#1c1c1c" stroke-width="0.9"/>
<line x1="9.3" x2="11.2" y1="178.3" y2="178.3" stroke="#1c1c1c" stroke-width="0.9"/>
<line x1="24.1" x2="24.1" y1="193.4" y2="191.5" stroke="#1c1c1c" stroke-width="0.9"/>
<line x1="54.3" x2="54.3" y1="193.4" y2="191.5" stroke="#1c1c1c" stroke-width="0.9"/>
<line x1="3.40" y1="181.00" x2="3.40" y2="137.00" stroke="#333" stroke-width="1.5"/>
<polygon points="3.40,132.90 5.80,137.00 1.00,137.00" fill="#111"/>
<line x1="17.60" y1="199.00" x2="66.30" y2="199.00" stroke="#333" stroke-width="1.6"/>
<polygon points="70.40,199.00 66.30,201.40 66.30,196.60" fill="#111"/>
<text class="sm" x="9.5" y="200.6" font-size="4.1">CD4</text>
<text class="sm" transform="translate(4.8 192.9) rotate(-90)" font-size="4.1">CD25</text>
<rect x="82.7" y="133.7" width="59.999999999999986" height="59.70000000000002" fill="#fff" stroke="#1c1c1c" stroke-width="1.1"/>
<path d="M83.2 192.6 L83.2 175.5 Q85 169.5 90 167.2 Q96 164.6 102.5 164.6 Q108 163.4 114 163.8 Q120 164 124 165.2 Q125.2 168.5 124 172.5 Q120 176.5 113 177.8 Q107 178.5 103.2 178 Q102 180 100.6 183 Q99 188 97.8 192.6 Z" fill="#909090"/>
<path d="M84 191 L84 181 Q90 180 96.5 181.5 Q95.5 187 95 191 Z" fill="#9c9c9c"/>
<g fill="#303030">
<rect x="84.7" y="171.6" width="0.8" height="0.8"/>
<rect x="85.1" y="170.8" width="0.8" height="0.8"/>
<rect x="84.4" y="173.9" width="0.8" height="0.8"/>
<rect x="84.9" y="172.2" width="0.8" height="0.8"/>
<rect x="84.0" y="174.0" width="0.8" height="0.8"/>
<rect x="85.7" y="172.3" width="0.8" height="0.8"/>
<rect x="83.4" y="175.2" width="0.8" height="0.8"/>
<rect x="84.6" y="175.1" width="0.8" height="0.8"/>
<rect x="85.1" y="170.5" width="0.8" height="0.8"/>
<rect x="84.1" y="173.9" width="0.8" height="0.8"/>
<rect x="84.4" y="172.5" width="0.8" height="0.8"/>
<rect x="85.7" y="173.4" width="0.8" height="0.8"/>
<rect x="85.5" y="171.6" width="0.8" height="0.8"/>
<rect x="86.7" y="167.6" width="0.8" height="0.8"/>
<rect x="84.4" y="170.6" width="0.8" height="0.8"/>
<rect x="85.6" y="170.7" width="0.8" height="0.8"/>
<rect x="87.5" y="171.9" width="0.8" height="0.8"/>
<rect x="88.1" y="170.3" width="0.8" height="0.8"/>
<rect x="86.9" y="167.3" width="0.8" height="0.8"/>
<rect x="85.2" y="170.7" width="0.8" height="0.8"/>
<rect x="87.8" y="167.2" width="0.8" height="0.8"/>
<rect x="85.9" y="171.0" width="0.8" height="0.8"/>
<rect x="85.5" y="169.9" width="0.8" height="0.8"/>
<rect x="86.0" y="170.9" width="0.8" height="0.8"/>
<rect x="85.1" y="168.5" width="0.8" height="0.8"/>
<rect x="87.8" y="167.6" width="0.8" height="0.8"/>
<rect x="87.7" y="168.5" width="0.8" height="0.8"/>
<rect x="89.9" y="166.4" width="0.8" height="0.8"/>
<rect x="89.6" y="169.4" width="0.8" height="0.8"/>
<rect x="89.2" y="167.0" width="0.8" height="0.8"/>
<rect x="92.0" y="165.7" width="0.8" height="0.8"/>
<rect x="91.5" y="166.5" width="0.8" height="0.8"/>
<rect x="90.3" y="166.4" width="0.8" height="0.8"/>
<rect x="89.1" y="167.2" width="0.8" height="0.8"/>
<rect x="91.6" y="165.1" width="0.8" height="0.8"/>
<rect x="91.2" y="168.2" width="0.8" height="0.8"/>
<rect x="90.4" y="167.6" width="0.8" height="0.8"/>
<rect x="91.3" y="166.2" width="0.8" height="0.8"/>
<rect x="90.0" y="167.3" width="0.8" height="0.8"/>
<rect x="89.9" y="166.4" width="0.8" height="0.8"/>
<rect x="94.1" y="166.4" width="0.8" height="0.8"/>
<rect x="95.0" y="166.0" width="0.8" height="0.8"/>
<rect x="94.1" y="164.9" width="0.8" height="0.8"/>
<rect x="97.5" y="165.6" width="0.8" height="0.8"/>
<rect x="95.8" y="165.2" width="0.8" height="0.8"/>
<rect x="96.0" y="164.8" width="0.8" height="0.8"/>
<rect x="95.6" y="164.2" width="0.8" height="0.8"/>
<rect x="93.2" y="166.2" width="0.8" height="0.8"/>
<rect x="92.6" y="166.1" width="0.8" height="0.8"/>
<rect x="91.5" y="164.2" width="0.8" height="0.8"/>
<rect x="92.7" y="165.6" width="0.8" height="0.8"/>
<rect x="98.2" y="163.3" width="0.8" height="0.8"/>
<rect x="96.3" y="163.4" width="0.8" height="0.8"/>
<rect x="92.8" y="167.0" width="0.8" height="0.8"/>
<rect x="93.9" y="165.7" width="0.8" height="0.8"/>
<rect x="94.2" y="165.2" width="0.8" height="0.8"/>
<rect x="96.6" y="164.5" width="0.8" height="0.8"/>
<rect x="99.0" y="164.4" width="0.8" height="0.8"/>
<rect x="99.2" y="165.3" width="0.8" height="0.8"/>
<rect x="101.6" y="164.6" width="0.8" height="0.8"/>
<rect x="101.1" y="163.5" width="0.8" height="0.8"/>
<rect x="98.2" y="165.8" width="0.8" height="0.8"/>
<rect x="99.4" y="162.5" width="0.8" height="0.8"/>
<rect x="98.1" y="163.1" width="0.8" height="0.8"/>
<rect x="99.2" y="164.0" width="0.8" height="0.8"/>
<rect x="99.3" y="164.6" width="0.8" height="0.8"/>
<rect x="97.2" y="164.9" width="0.8" height="0.8"/>
<rect x="99.1" y="166.4" width="0.8" height="0.8"/>
<rect x="96.6" y="163.9" width="0.8" height="0.8"/>
<rect x="97.2" y="165.3" width="0.8" height="0.8"/>
<rect x="100.0" y="163.8" width="0.8" height="0.8"/>
<rect x="100.0" y="164.5" width="0.8" height="0.8"/>
<rect x="101.9" y="164.5" width="0.8" height="0.8"/>
<rect x="104.3" y="163.7" width="0.8" height="0.8"/>
<rect x="105.2" y="163.8" width="0.8" height="0.8"/>
<rect x="107.5" y="166.5" width="0.8" height="0.8"/>
<rect x="103.7" y="163.8" width="0.8" height="0.8"/>
<rect x="109.3" y="162.5" width="0.8" height="0.8"/>
<rect x="105.2" y="164.6" width="0.8" height="0.8"/>
<rect x="105.4" y="161.9" width="0.8" height="0.8"/>
<rect x="107.3" y="165.4" width="0.8" height="0.8"/>
<rect x="108.3" y="164.1" width="0.8" height="0.8"/>
<rect x="104.9" y="163.3" width="0.8" height="0.8"/>
<rect x="104.7" y="165.9" width="0.8" height="0.8"/>
<rect x="102.6" y="165.0" width="0.8" height="0.8"/>
<rect x="105.8" y="162.4" width="0.8" height="0.8"/>
<rect x="108.5" y="162.5" width="0.8" height="0.8"/>
<rect x="105.0" y="163.9" width="0.8" height="0.8"/>
<rect x="103.3" y="164.2" width="0.8" height="0.8"/>
<rect x="107.6" y="162.6" width="0.8" height="0.8"/>
<rect x="111.0" y="163.3" width="0.8" height="0.8"/>
<rect x="109.2" y="164.2" width="0.8" height="0.8"/>
<rect x="110.4" y="163.2" width="0.8" height="0.8"/>
<rect x="109.0" y="164.4" width="0.8" height="0.8"/>
<rect x="108.5" y="163.5" width="0.8" height="0.8"/>
<rect x="113.2" y="163.0" width="0.8" height="0.8"/>
<rect x="112.4" y="163.3" width="0.8" height="0.8"/>
<rect x="113.3" y="162.2" width="0.8" height="0.8"/>
<rect x="110.3" y="164.1" width="0.8" height="0.8"/>
<rect x="110.1" y="162.8" width="0.8" height="0.8"/>
<rect x="113.8" y="164.3" width="0.8" height="0.8"/>
<rect x="111.3" y="163.6" width="0.8" height="0.8"/>
<rect x="112.3" y="163.0" width="0.8" height="0.8"/>
<rect x="110.0" y="164.3" width="0.8" height="0.8"/>
<rect x="115.0" y="164.0" width="0.8" height="0.8"/>
<rect x="113.6" y="162.4" width="0.8" height="0.8"/>
<rect x="110.5" y="164.9" width="0.8" height="0.8"/>
<rect x="113.8" y="163.8" width="0.8" height="0.8"/>
<rect x="108.3" y="163.5" width="0.8" height="0.8"/>
<rect x="117.0" y="162.2" width="0.8" height="0.8"/>
<rect x="117.2" y="164.8" width="0.8" height="0.8"/>
<rect x="116.8" y="165.3" width="0.8" height="0.8"/>
<rect x="114.1" y="164.0" width="0.8" height="0.8"/>
<rect x="119.2" y="161.8" width="0.8" height="0.8"/>
<rect x="118.6" y="163.5" width="0.8" height="0.8"/>
<rect x="118.4" y="165.2" width="0.8" height="0.8"/>
<rect x="119.7" y="164.5" width="0.8" height="0.8"/>
<rect x="119.7" y="162.9" width="0.8" height="0.8"/>
<rect x="119.6" y="163.8" width="0.8" height="0.8"/>
<rect x="117.7" y="164.9" width="0.8" height="0.8"/>
<rect x="119.3" y="163.0" width="0.8" height="0.8"/>
<rect x="117.3" y="164.4" width="0.8" height="0.8"/>
<rect x="116.0" y="163.6" width="0.8" height="0.8"/>
<rect x="118.4" y="162.4" width="0.8" height="0.8"/>
<rect x="113.6" y="162.9" width="0.8" height="0.8"/>
<rect x="118.8" y="164.1" width="0.8" height="0.8"/>
<rect x="117.8" y="163.1" width="0.8" height="0.8"/>
<rect x="116.9" y="164.7" width="0.8" height="0.8"/>
<rect x="122.7" y="165.5" width="0.8" height="0.8"/>
<rect x="120.5" y="163.3" width="0.8" height="0.8"/>
<rect x="121.9" y="166.1" width="0.8" height="0.8"/>
<rect x="122.2" y="164.0" width="0.8" height="0.8"/>
<rect x="123.7" y="164.0" width="0.8" height="0.8"/>
<rect x="121.6" y="166.7" width="0.8" height="0.8"/>
<rect x="123.8" y="163.5" width="0.8" height="0.8"/>
<rect x="120.3" y="163.7" width="0.8" height="0.8"/>
<rect x="121.1" y="164.8" width="0.8" height="0.8"/>
<rect x="121.1" y="164.8" width="0.8" height="0.8"/>
<rect x="123.3" y="166.9" width="0.8" height="0.8"/>
<rect x="123.6" y="164.7" width="0.8" height="0.8"/>
<rect x="122.2" y="167.0" width="0.8" height="0.8"/>
<rect x="124.9" y="166.3" width="0.8" height="0.8"/>
<rect x="125.3" y="167.7" width="0.8" height="0.8"/>
<rect x="124.3" y="166.9" width="0.8" height="0.8"/>
<rect x="125.3" y="166.2" width="0.8" height="0.8"/>
<rect x="125.4" y="166.5" width="0.8" height="0.8"/>
<rect x="124.5" y="167.7" width="0.8" height="0.8"/>
<rect x="123.5" y="165.9" width="0.8" height="0.8"/>
<rect x="125.1" y="167.1" width="0.8" height="0.8"/>
<rect x="124.2" y="166.0" width="0.8" height="0.8"/>
<rect x="124.5" y="168.0" width="0.8" height="0.8"/>
<rect x="122.8" y="171.8" width="0.8" height="0.8"/>
<rect x="124.7" y="171.5" width="0.8" height="0.8"/>
<rect x="125.8" y="166.8" width="0.8" height="0.8"/>
<rect x="124.7" y="169.6" width="0.8" height="0.8"/>
<rect x="124.8" y="171.2" width="0.8" height="0.8"/>
<rect x="125.1" y="169.1" width="0.8" height="0.8"/>
<rect x="124.5" y="169.3" width="0.8" height="0.8"/>
<rect x="123.6" y="172.3" width="0.8" height="0.8"/>
<rect x="121.6" y="172.2" width="0.8" height="0.8"/>
<rect x="122.6" y="169.1" width="0.8" height="0.8"/>
<rect x="123.2" y="170.6" width="0.8" height="0.8"/>
<rect x="124.4" y="169.7" width="0.8" height="0.8"/>
<rect x="125.8" y="168.2" width="0.8" height="0.8"/>
<rect x="120.9" y="174.7" width="0.8" height="0.8"/>
<rect x="121.0" y="174.9" width="0.8" height="0.8"/>
<rect x="122.4" y="175.8" width="0.8" height="0.8"/>
<rect x="123.2" y="175.9" width="0.8" height="0.8"/>
<rect x="123.9" y="172.2" width="0.8" height="0.8"/>
<rect x="121.1" y="173.1" width="0.8" height="0.8"/>
<rect x="122.6" y="171.5" width="0.8" height="0.8"/>
<rect x="118.3" y="176.8" width="0.8" height="0.8"/>
<rect x="120.0" y="173.9" width="0.8" height="0.8"/>
<rect x="122.3" y="173.5" width="0.8" height="0.8"/>
<rect x="120.2" y="172.6" width="0.8" height="0.8"/>
<rect x="119.7" y="175.1" width="0.8" height="0.8"/>
<rect x="120.0" y="176.3" width="0.8" height="0.8"/>
<rect x="121.5" y="173.7" width="0.8" height="0.8"/>
<rect x="124.1" y="172.5" width="0.8" height="0.8"/>
<rect x="122.5" y="173.8" width="0.8" height="0.8"/>
<rect x="120.8" y="176.4" width="0.8" height="0.8"/>
<rect x="115.6" y="177.9" width="0.8" height="0.8"/>
<rect x="115.5" y="177.5" width="0.8" height="0.8"/>
<rect x="117.0" y="175.8" width="0.8" height="0.8"/>
<rect x="114.4" y="178.4" width="0.8" height="0.8"/>
<rect x="114.7" y="178.3" width="0.8" height="0.8"/>
<rect x="115.2" y="176.1" width="0.8" height="0.8"/>
<rect x="114.8" y="178.8" width="0.8" height="0.8"/>
<rect x="115.7" y="176.4" width="0.8" height="0.8"/>
<rect x="116.6" y="177.2" width="0.8" height="0.8"/>
<rect x="113.9" y="177.1" width="0.8" height="0.8"/>
<rect x="117.7" y="177.0" width="0.8" height="0.8"/>
<rect x="115.7" y="176.5" width="0.8" height="0.8"/>
<rect x="113.5" y="177.0" width="0.8" height="0.8"/>
<rect x="117.7" y="175.4" width="0.8" height="0.8"/>
<rect x="118.3" y="177.5" width="0.8" height="0.8"/>
<rect x="116.2" y="177.9" width="0.8" height="0.8"/>
<rect x="118.4" y="176.8" width="0.8" height="0.8"/>
<rect x="117.9" y="177.3" width="0.8" height="0.8"/>
<rect x="121.3" y="176.5" width="0.8" height="0.8"/>
<rect x="113.2" y="177.4" width="0.8" height="0.8"/>
<rect x="116.6" y="176.4" width="0.8" height="0.8"/>
<rect x="118.1" y="176.6" width="0.8" height="0.8"/>
<rect x="118.9" y="175.5" width="0.8" height="0.8"/>
<rect x="106.5" y="177.7" width="0.8" height="0.8"/>
<rect x="110.9" y="178.6" width="0.8" height="0.8"/>
<rect x="112.5" y="178.7" width="0.8" height="0.8"/>
<rect x="108.7" y="180.4" width="0.8" height="0.8"/>
<rect x="107.4" y="178.9" width="0.8" height="0.8"/>
<rect x="110.5" y="178.5" width="0.8" height="0.8"/>
<rect x="110.4" y="180.0" width="0.8" height="0.8"/>
<rect x="113.4" y="177.8" width="0.8" height="0.8"/>
<rect x="108.7" y="178.8" width="0.8" height="0.8"/>
<rect x="110.8" y="178.3" width="0.8" height="0.8"/>
<rect x="106.6" y="178.6" width="0.8" height="0.8"/>
<rect x="111.5" y="177.8" width="0.8" height="0.8"/>
<rect x="111.6" y="179.1" width="0.8" height="0.8"/>
<rect x="109.1" y="178.0" width="0.8" height="0.8"/>
<rect x="111.9" y="176.9" width="0.8" height="0.8"/>
<rect x="111.0" y="176.4" width="0.8" height="0.8"/>
<rect x="112.1" y="179.3" width="0.8" height="0.8"/>
<rect x="113.3" y="177.5" width="0.8" height="0.8"/>
<rect x="110.7" y="176.3" width="0.8" height="0.8"/>
<rect x="106.5" y="178.5" width="0.8" height="0.8"/>
<rect x="103.1" y="177.4" width="0.8" height="0.8"/>
<rect x="103.4" y="178.1" width="0.8" height="0.8"/>
<rect x="102.8" y="178.9" width="0.8" height="0.8"/>
<rect x="106.7" y="178.9" width="0.8" height="0.8"/>
<rect x="106.1" y="178.3" width="0.8" height="0.8"/>
<rect x="106.6" y="177.3" width="0.8" height="0.8"/>
<rect x="104.8" y="178.8" width="0.8" height="0.8"/>
<rect x="104.5" y="178.4" width="0.8" height="0.8"/>
<rect x="106.2" y="178.2" width="0.8" height="0.8"/>
<rect x="106.9" y="179.1" width="0.8" height="0.8"/>
<rect x="105.1" y="178.0" width="0.8" height="0.8"/>
<rect x="103.1" y="179.1" width="0.8" height="0.8"/>
<rect x="102.1" y="179.1" width="0.8" height="0.8"/>
<rect x="102.0" y="180.7" width="0.8" height="0.8"/>
<rect x="101.7" y="177.4" width="0.8" height="0.8"/>
<rect x="102.3" y="179.9" width="0.8" height="0.8"/>
<rect x="104.1" y="177.4" width="0.8" height="0.8"/>
<rect x="100.7" y="183.0" width="0.8" height="0.8"/>
<rect x="102.9" y="182.0" width="0.8" height="0.8"/>
<rect x="100.4" y="184.4" width="0.8" height="0.8"/>
<rect x="100.6" y="183.0" width="0.8" height="0.8"/>
<rect x="102.5" y="185.4" width="0.8" height="0.8"/>
<rect x="102.1" y="179.7" width="0.8" height="0.8"/>
<rect x="100.4" y="183.3" width="0.8" height="0.8"/>
<rect x="100.7" y="183.6" width="0.8" height="0.8"/>
<rect x="100.3" y="181.2" width="0.8" height="0.8"/>
<rect x="102.3" y="181.3" width="0.8" height="0.8"/>
<rect x="103.0" y="181.4" width="0.8" height="0.8"/>
<rect x="102.0" y="182.2" width="0.8" height="0.8"/>
<rect x="100.4" y="182.6" width="0.8" height="0.8"/>
<rect x="99.2" y="185.4" width="0.8" height="0.8"/>
<rect x="100.3" y="185.8" width="0.8" height="0.8"/>
<rect x="99.7" y="186.1" width="0.8" height="0.8"/>
<rect x="101.6" y="186.6" width="0.8" height="0.8"/>
<rect x="101.0" y="189.9" width="0.8" height="0.8"/>
<rect x="98.3" y="186.7" width="0.8" height="0.8"/>
<rect x="99.1" y="185.8" width="0.8" height="0.8"/>
<rect x="99.0" y="187.0" width="0.8" height="0.8"/>
<rect x="100.6" y="186.8" width="0.8" height="0.8"/>
<rect x="99.6" y="185.1" width="0.8" height="0.8"/>
<rect x="99.5" y="187.6" width="0.8" height="0.8"/>
<rect x="99.2" y="185.3" width="0.8" height="0.8"/>
<rect x="101.2" y="185.8" width="0.8" height="0.8"/>
<rect x="98.8" y="191.8" width="0.8" height="0.8"/>
<rect x="98.5" y="189.3" width="0.8" height="0.8"/>
<rect x="100.6" y="189.7" width="0.8" height="0.8"/>
<rect x="98.4" y="188.8" width="0.8" height="0.8"/>
<rect x="99.0" y="190.6" width="0.8" height="0.8"/>
<rect x="96.6" y="191.8" width="0.8" height="0.8"/>
<rect x="98.7" y="189.6" width="0.8" height="0.8"/>
<rect x="99.8" y="189.4" width="0.8" height="0.8"/>
<rect x="99.3" y="190.8" width="0.8" height="0.8"/>
<rect x="97.4" y="191.0" width="0.8" height="0.8"/>
<rect x="99.9" y="188.5" width="0.8" height="0.8"/>
<rect x="98.2" y="188.8" width="0.8" height="0.8"/>
<rect x="99.9" y="191.7" width="0.8" height="0.8"/>
<rect x="110.1" y="190.9" width="0.8" height="0.8"/>
<rect x="111.2" y="178.4" width="0.8" height="0.8"/>
<rect x="101.9" y="182.8" width="0.8" height="0.8"/>
<rect x="120.1" y="184.3" width="0.8" height="0.8"/>
<rect x="123.8" y="189.6" width="0.8" height="0.8"/>
<rect x="124.3" y="186.3" width="0.8" height="0.8"/>
<rect x="125.9" y="187.2" width="0.8" height="0.8"/>
<rect x="103.4" y="182.1" width="0.8" height="0.8"/>
<rect x="107.3" y="179.2" width="0.8" height="0.8"/>
<rect x="125.9" y="184.6" width="0.8" height="0.8"/>
<rect x="105.9" y="189.0" width="0.8" height="0.8"/>
<rect x="111.0" y="181.1" width="0.8" height="0.8"/>
<rect x="120.5" y="180.2" width="0.8" height="0.8"/>
<rect x="126.4" y="190.2" width="0.8" height="0.8"/>
<rect x="102.6" y="185.2" width="0.8" height="0.8"/>
<rect x="101.8" y="189.9" width="0.8" height="0.8"/>
<rect x="108.0" y="184.7" width="0.8" height="0.8"/>
<rect x="121.0" y="187.9" width="0.8" height="0.8"/>
<rect x="114.1" y="179.3" width="0.8" height="0.8"/>
<rect x="109.6" y="178.1" width="0.8" height="0.8"/>
<rect x="106.4" y="187.7" width="0.8" height="0.8"/>
<rect x="116.9" y="183.7" width="0.8" height="0.8"/>
<rect x="118.6" y="184.1" width="0.8" height="0.8"/>
<rect x="111.0" y="183.1" width="0.8" height="0.8"/>
<rect x="111.1" y="182.9" width="0.8" height="0.8"/>
<rect x="112.9" y="188.5" width="0.8" height="0.8"/>
<rect x="122.4" y="163.4" width="0.8" height="0.8"/>
<rect x="103.7" y="163.5" width="0.8" height="0.8"/>
<rect x="117.6" y="158.9" width="0.8" height="0.8"/>
<rect x="119.0" y="158.5" width="0.8" height="0.8"/>
<rect x="110.0" y="160.2" width="0.8" height="0.8"/>
<rect x="115.5" y="162.7" width="0.8" height="0.8"/>
<rect x="124.2" y="163.6" width="0.8" height="0.8"/>
<rect x="100.2" y="158.1" width="0.8" height="0.8"/>
<rect x="87.2" y="163.8" width="0.8" height="0.8"/>
<rect x="97.5" y="159.4" width="0.8" height="0.8"/>
<rect x="88.9" y="160.2" width="0.8" height="0.8"/>
<rect x="97.9" y="162.4" width="0.8" height="0.8"/>
<rect x="91.6" y="160.7" width="0.8" height="0.8"/>
<rect x="121.4" y="160.6" width="0.8" height="0.8"/>
</g>
<g fill="#5a5a5a">
<rect x="90.0" y="180.3" width="0.7" height="0.7"/>
<rect x="85.0" y="184.6" width="0.7" height="0.7"/>
<rect x="116.2" y="167.0" width="0.7" height="0.7"/>
<rect x="102.2" y="171.6" width="0.7" height="0.7"/>
<rect x="101.3" y="168.7" width="0.7" height="0.7"/>
<rect x="93.5" y="178.4" width="0.7" height="0.7"/>
<rect x="89.8" y="184.7" width="0.7" height="0.7"/>
<rect x="104.3" y="171.0" width="0.7" height="0.7"/>
<rect x="115.6" y="173.4" width="0.7" height="0.7"/>
<rect x="98.4" y="167.3" width="0.7" height="0.7"/>
<rect x="104.9" y="167.4" width="0.7" height="0.7"/>
<rect x="113.2" y="172.2" width="0.7" height="0.7"/>
<rect x="91.7" y="177.4" width="0.7" height="0.7"/>
<rect x="120.6" y="168.7" width="0.7" height="0.7"/>
<rect x="89.3" y="185.3" width="0.7" height="0.7"/>
<rect x="106.5" y="176.2" width="0.7" height="0.7"/>
<rect x="86.9" y="180.3" width="0.7" height="0.7"/>
<rect x="89.4" y="177.1" width="0.7" height="0.7"/>
<rect x="108.8" y="166.5" width="0.7" height="0.7"/>
<rect x="106.2" y="176.0" width="0.7" height="0.7"/>
<rect x="121.1" y="170.3" width="0.7" height="0.7"/>
<rect x="117.5" y="170.2" width="0.7" height="0.7"/>
<rect x="93.5" y="179.6" width="0.7" height="0.7"/>
<rect x="87.8" y="176.7" width="0.7" height="0.7"/>
<rect x="105.7" y="167.3" width="0.7" height="0.7"/>
<rect x="110.8" y="169.5" width="0.7" height="0.7"/>
<rect x="85.4" y="191.2" width="0.7" height="0.7"/>
<rect x="123.4" y="166.9" width="0.7" height="0.7"/>
<rect x="106.4" y="168.4" width="0.7" height="0.7"/>
<rect x="110.5" y="164.7" width="0.7" height="0.7"/>
<rect x="91.5" y="177.8" width="0.7" height="0.7"/>
<rect x="110.8" y="167.0" width="0.7" height="0.7"/>
<rect x="99.9" y="178.4" width="0.7" height="0.7"/>
<rect x="116.3" y="164.9" width="0.7" height="0.7"/>
<rect x="88.9" y="173.0" width="0.7" height="0.7"/>
<rect x="85.6" y="176.7" width="0.7" height="0.7"/>
<rect x="120.8" y="171.6" width="0.7" height="0.7"/>
<rect x="107.6" y="175.3" width="0.7" height="0.7"/>
<rect x="113.6" y="167.4" width="0.7" height="0.7"/>
<rect x="111.8" y="166.9" width="0.7" height="0.7"/>
<rect x="85.2" y="180.6" width="0.7" height="0.7"/>
<rect x="105.8" y="176.2" width="0.7" height="0.7"/>
<rect x="97.0" y="175.5" width="0.7" height="0.7"/>
<rect x="119.1" y="166.4" width="0.7" height="0.7"/>
<rect x="97.9" y="183.3" width="0.7" height="0.7"/>
<rect x="95.1" y="188.0" width="0.7" height="0.7"/>
<rect x="112.1" y="168.8" width="0.7" height="0.7"/>
<rect x="100.4" y="172.6" width="0.7" height="0.7"/>
<rect x="99.9" y="178.3" width="0.7" height="0.7"/>
<rect x="95.5" y="176.8" width="0.7" height="0.7"/>
<rect x="99.2" y="170.0" width="0.7" height="0.7"/>
<rect x="116.1" y="168.6" width="0.7" height="0.7"/>
<rect x="93.3" y="187.8" width="0.7" height="0.7"/>
<rect x="122.8" y="169.0" width="0.7" height="0.7"/>
<rect x="122.2" y="164.8" width="0.7" height="0.7"/>
<rect x="119.8" y="167.0" width="0.7" height="0.7"/>
<rect x="96.5" y="182.7" width="0.7" height="0.7"/>
<rect x="117.0" y="171.1" width="0.7" height="0.7"/>
<rect x="102.1" y="165.3" width="0.7" height="0.7"/>
<rect x="93.2" y="178.9" width="0.7" height="0.7"/>
<rect x="109.9" y="174.7" width="0.7" height="0.7"/>
<rect x="91.5" y="179.8" width="0.7" height="0.7"/>
<rect x="111.7" y="172.3" width="0.7" height="0.7"/>
<rect x="98.5" y="171.0" width="0.7" height="0.7"/>
<rect x="105.0" y="174.6" width="0.7" height="0.7"/>
<rect x="119.7" y="167.9" width="0.7" height="0.7"/>
<rect x="106.1" y="175.5" width="0.7" height="0.7"/>
<rect x="87.9" y="173.6" width="0.7" height="0.7"/>
<rect x="118.8" y="172.1" width="0.7" height="0.7"/>
<rect x="89.8" y="182.3" width="0.7" height="0.7"/>
<rect x="103.6" y="170.5" width="0.7" height="0.7"/>
<rect x="107.2" y="166.3" width="0.7" height="0.7"/>
<rect x="118.4" y="172.7" width="0.7" height="0.7"/>
<rect x="91.7" y="183.9" width="0.7" height="0.7"/>
<rect x="85.8" y="175.6" width="0.7" height="0.7"/>
<rect x="102.2" y="170.7" width="0.7" height="0.7"/>
<rect x="119.5" y="172.6" width="0.7" height="0.7"/>
<rect x="84.9" y="189.5" width="0.7" height="0.7"/>
<rect x="90.8" y="179.2" width="0.7" height="0.7"/>
<rect x="119.3" y="167.9" width="0.7" height="0.7"/>
<rect x="97.4" y="188.6" width="0.7" height="0.7"/>
<rect x="110.1" y="175.0" width="0.7" height="0.7"/>
<rect x="120.5" y="169.0" width="0.7" height="0.7"/>
<rect x="102.7" y="169.7" width="0.7" height="0.7"/>
<rect x="93.7" y="172.6" width="0.7" height="0.7"/>
<rect x="102.7" y="175.7" width="0.7" height="0.7"/>
<rect x="98.7" y="169.2" width="0.7" height="0.7"/>
<rect x="109.2" y="171.0" width="0.7" height="0.7"/>
<rect x="105.4" y="169.5" width="0.7" height="0.7"/>
<rect x="111.8" y="172.6" width="0.7" height="0.7"/>
<rect x="91.5" y="189.5" width="0.7" height="0.7"/>
<rect x="91.7" y="185.9" width="0.7" height="0.7"/>
<rect x="95.5" y="187.5" width="0.7" height="0.7"/>
<rect x="98.2" y="176.6" width="0.7" height="0.7"/>
<rect x="121.5" y="165.9" width="0.7" height="0.7"/>
<rect x="85.0" y="186.8" width="0.7" height="0.7"/>
<rect x="87.9" y="178.7" width="0.7" height="0.7"/>
<rect x="100.2" y="173.4" width="0.7" height="0.7"/>
<rect x="106.6" y="167.3" width="0.7" height="0.7"/>
<rect x="107.0" y="175.5" width="0.7" height="0.7"/>
<rect x="123.0" y="169.5" width="0.7" height="0.7"/>
<rect x="96.7" y="186.4" width="0.7" height="0.7"/>
<rect x="123.9" y="168.9" width="0.7" height="0.7"/>
<rect x="101.7" y="169.7" width="0.7" height="0.7"/>
<rect x="104.3" y="173.0" width="0.7" height="0.7"/>
<rect x="117.0" y="169.6" width="0.7" height="0.7"/>
<rect x="90.5" y="187.3" width="0.7" height="0.7"/>
<rect x="94.4" y="190.9" width="0.7" height="0.7"/>
<rect x="89.5" y="185.6" width="0.7" height="0.7"/>
<rect x="103.3" y="173.6" width="0.7" height="0.7"/>
<rect x="117.6" y="168.1" width="0.7" height="0.7"/>
<rect x="111.6" y="164.7" width="0.7" height="0.7"/>
<rect x="85.7" y="189.9" width="0.7" height="0.7"/>
<rect x="95.6" y="181.5" width="0.7" height="0.7"/>
<rect x="102.7" y="177.2" width="0.7" height="0.7"/>
<rect x="103.5" y="174.5" width="0.7" height="0.7"/>
<rect x="98.4" y="167.9" width="0.7" height="0.7"/>
<rect x="85.0" y="181.7" width="0.7" height="0.7"/>
<rect x="98.7" y="178.0" width="0.7" height="0.7"/>
<rect x="119.8" y="170.1" width="0.7" height="0.7"/>
<rect x="99.2" y="174.2" width="0.7" height="0.7"/>
<rect x="117.5" y="166.8" width="0.7" height="0.7"/>
<rect x="124.0" y="167.4" width="0.7" height="0.7"/>
<rect x="89.7" y="176.7" width="0.7" height="0.7"/>
<rect x="118.0" y="168.7" width="0.7" height="0.7"/>
<rect x="117.3" y="169.1" width="0.7" height="0.7"/>
<rect x="119.6" y="165.1" width="0.7" height="0.7"/>
<rect x="111.0" y="170.6" width="0.7" height="0.7"/>
<rect x="105.7" y="170.8" width="0.7" height="0.7"/>
<rect x="105.4" y="172.2" width="0.7" height="0.7"/>
<rect x="100.1" y="173.5" width="0.7" height="0.7"/>
<rect x="116.4" y="171.1" width="0.7" height="0.7"/>
<rect x="110.3" y="170.7" width="0.7" height="0.7"/>
<rect x="98.7" y="174.4" width="0.7" height="0.7"/>
<rect x="106.2" y="175.8" width="0.7" height="0.7"/>
<rect x="93.6" y="179.5" width="0.7" height="0.7"/>
<rect x="93.1" y="191.0" width="0.7" height="0.7"/>
<rect x="112.4" y="166.9" width="0.7" height="0.7"/>
<rect x="111.2" y="173.0" width="0.7" height="0.7"/>
<rect x="105.8" y="176.2" width="0.7" height="0.7"/>
<rect x="103.0" y="165.8" width="0.7" height="0.7"/>
<rect x="108.8" y="169.1" width="0.7" height="0.7"/>
</g>
<g fill="#b4b4b4">
<rect x="104.5" y="172.4" width="0.7" height="0.7"/>
<rect x="121.0" y="168.9" width="0.7" height="0.7"/>
<rect x="88.8" y="187.1" width="0.7" height="0.7"/>
<rect x="90.5" y="188.4" width="0.7" height="0.7"/>
<rect x="95.1" y="173.0" width="0.7" height="0.7"/>
<rect x="108.0" y="174.0" width="0.7" height="0.7"/>
<rect x="89.5" y="185.3" width="0.7" height="0.7"/>
<rect x="111.7" y="170.0" width="0.7" height="0.7"/>
<rect x="95.3" y="183.4" width="0.7" height="0.7"/>
<rect x="87.6" y="181.0" width="0.7" height="0.7"/>
<rect x="112.1" y="170.5" width="0.7" height="0.7"/>
<rect x="98.2" y="177.6" width="0.7" height="0.7"/>
<rect x="117.2" y="172.7" width="0.7" height="0.7"/>
<rect x="118.7" y="169.4" width="0.7" height="0.7"/>
<rect x="95.7" y="171.1" width="0.7" height="0.7"/>
<rect x="101.9" y="165.5" width="0.7" height="0.7"/>
<rect x="102.6" y="172.9" width="0.7" height="0.7"/>
<rect x="88.4" y="175.3" width="0.7" height="0.7"/>
<rect x="121.9" y="164.7" width="0.7" height="0.7"/>
<rect x="111.8" y="170.8" width="0.7" height="0.7"/>
<rect x="98.5" y="171.4" width="0.7" height="0.7"/>
<rect x="112.6" y="173.1" width="0.7" height="0.7"/>
<rect x="111.2" y="168.3" width="0.7" height="0.7"/>
<rect x="85.9" y="191.4" width="0.7" height="0.7"/>
<rect x="85.6" y="189.4" width="0.7" height="0.7"/>
<rect x="120.7" y="169.5" width="0.7" height="0.7"/>
<rect x="90.7" y="172.9" width="0.7" height="0.7"/>
<rect x="104.5" y="175.6" width="0.7" height="0.7"/>
<rect x="107.1" y="167.8" width="0.7" height="0.7"/>
<rect x="105.9" y="169.0" width="0.7" height="0.7"/>
<rect x="96.1" y="179.5" width="0.7" height="0.7"/>
<rect x="121.0" y="165.9" width="0.7" height="0.7"/>
<rect x="84.9" y="184.3" width="0.7" height="0.7"/>
<rect x="117.4" y="167.7" width="0.7" height="0.7"/>
<rect x="104.8" y="176.8" width="0.7" height="0.7"/>
<rect x="121.4" y="167.8" width="0.7" height="0.7"/>
<rect x="89.6" y="176.2" width="0.7" height="0.7"/>
<rect x="118.3" y="172.5" width="0.7" height="0.7"/>
<rect x="94.7" y="183.4" width="0.7" height="0.7"/>
<rect x="118.0" y="167.0" width="0.7" height="0.7"/>
<rect x="88.4" y="188.9" width="0.7" height="0.7"/>
<rect x="105.0" y="171.9" width="0.7" height="0.7"/>
<rect x="84.3" y="187.6" width="0.7" height="0.7"/>
<rect x="97.0" y="191.0" width="0.7" height="0.7"/>
<rect x="102.6" y="165.7" width="0.7" height="0.7"/>
<rect x="114.7" y="173.2" width="0.7" height="0.7"/>
<rect x="96.4" y="172.2" width="0.7" height="0.7"/>
<rect x="95.8" y="176.5" width="0.7" height="0.7"/>
<rect x="104.4" y="176.7" width="0.7" height="0.7"/>
<rect x="106.6" y="165.9" width="0.7" height="0.7"/>
<rect x="109.3" y="172.6" width="0.7" height="0.7"/>
<rect x="84.4" y="175.6" width="0.7" height="0.7"/>
<rect x="91.0" y="187.0" width="0.7" height="0.7"/>
<rect x="89.7" y="176.1" width="0.7" height="0.7"/>
<rect x="85.2" y="176.3" width="0.7" height="0.7"/>
<rect x="116.0" y="170.6" width="0.7" height="0.7"/>
<rect x="95.0" y="169.7" width="0.7" height="0.7"/>
<rect x="92.8" y="178.8" width="0.7" height="0.7"/>
<rect x="92.9" y="173.7" width="0.7" height="0.7"/>
<rect x="90.9" y="171.6" width="0.7" height="0.7"/>
<rect x="111.1" y="171.7" width="0.7" height="0.7"/>
<rect x="100.5" y="170.7" width="0.7" height="0.7"/>
<rect x="95.2" y="169.4" width="0.7" height="0.7"/>
<rect x="105.8" y="174.1" width="0.7" height="0.7"/>
<rect x="103.0" y="167.2" width="0.7" height="0.7"/>
<rect x="111.0" y="174.5" width="0.7" height="0.7"/>
<rect x="107.8" y="169.6" width="0.7" height="0.7"/>
<rect x="89.0" y="187.0" width="0.7" height="0.7"/>
<rect x="87.7" y="189.0" width="0.7" height="0.7"/>
<rect x="114.6" y="164.9" width="0.7" height="0.7"/>
<rect x="89.8" y="172.5" width="0.7" height="0.7"/>
<rect x="120.6" y="170.9" width="0.7" height="0.7"/>
<rect x="109.1" y="171.6" width="0.7" height="0.7"/>
<rect x="116.0" y="170.9" width="0.7" height="0.7"/>
<rect x="124.0" y="167.4" width="0.7" height="0.7"/>
<rect x="108.4" y="167.1" width="0.7" height="0.7"/>
<rect x="114.3" y="166.1" width="0.7" height="0.7"/>
<rect x="106.1" y="172.1" width="0.7" height="0.7"/>
<rect x="104.8" y="176.0" width="0.7" height="0.7"/>
<rect x="114.5" y="170.9" width="0.7" height="0.7"/>
<rect x="119.0" y="169.5" width="0.7" height="0.7"/>
<rect x="120.5" y="167.9" width="0.7" height="0.7"/>
<rect x="105.1" y="168.9" width="0.7" height="0.7"/>
<rect x="111.5" y="173.3" width="0.7" height="0.7"/>
<rect x="110.9" y="173.6" width="0.7" height="0.7"/>
<rect x="103.6" y="167.0" width="0.7" height="0.7"/>
<rect x="97.9" y="169.4" width="0.7" height="0.7"/>
<rect x="111.7" y="166.0" width="0.7" height="0.7"/>
<rect x="111.9" y="166.0" width="0.7" height="0.7"/>
<rect x="107.5" y="167.4" width="0.7" height="0.7"/>
<rect x="88.7" y="180.9" width="0.7" height="0.7"/>
<rect x="111.1" y="166.2" width="0.7" height="0.7"/>
<rect x="88.4" y="178.8" width="0.7" height="0.7"/>
<rect x="90.5" y="180.7" width="0.7" height="0.7"/>
<rect x="113.9" y="167.8" width="0.7" height="0.7"/>
<rect x="94.6" y="183.7" width="0.7" height="0.7"/>
<rect x="108.5" y="172.8" width="0.7" height="0.7"/>
<rect x="110.1" y="165.4" width="0.7" height="0.7"/>
<rect x="112.8" y="167.7" width="0.7" height="0.7"/>
<rect x="93.2" y="173.0" width="0.7" height="0.7"/>
<rect x="88.3" y="188.0" width="0.7" height="0.7"/>
<rect x="92.7" y="179.4" width="0.7" height="0.7"/>
<rect x="123.8" y="168.8" width="0.7" height="0.7"/>
<rect x="109.5" y="169.0" width="0.7" height="0.7"/>
<rect x="98.9" y="166.9" width="0.7" height="0.7"/>
<rect x="86.9" y="175.0" width="0.7" height="0.7"/>
<rect x="122.2" y="165.9" width="0.7" height="0.7"/>
<rect x="99.2" y="166.4" width="0.7" height="0.7"/>
<rect x="118.6" y="169.1" width="0.7" height="0.7"/>
<rect x="117.9" y="166.5" width="0.7" height="0.7"/>
<rect x="111.7" y="166.1" width="0.7" height="0.7"/>
<rect x="114.0" y="166.8" width="0.7" height="0.7"/>
<rect x="110.0" y="166.6" width="0.7" height="0.7"/>
<rect x="105.6" y="173.0" width="0.7" height="0.7"/>
<rect x="120.4" y="169.1" width="0.7" height="0.7"/>
<rect x="104.1" y="170.9" width="0.7" height="0.7"/>
<rect x="121.9" y="169.3" width="0.7" height="0.7"/>
<rect x="104.6" y="170.3" width="0.7" height="0.7"/>
</g>
<rect x="82.7" y="159.3" width="20.00" height="20.60" fill="none" stroke="#2a2a2a" stroke-width="0.8"/>
<rect x="103.5" y="159.3" width="21.90" height="20.60" fill="none" stroke="#2a2a2a" stroke-width="0.8"/>
<rect x="82.7" y="179.9" width="20.00" height="13.20" fill="none" stroke="#2a2a2a" stroke-width="0.8"/>
<rect x="82.7" y="133.7" width="60.0" height="59.7" fill="none" stroke="#1c1c1c" stroke-width="1.1"/>
<line x1="82.7" x2="84.5" y1="148" y2="148" stroke="#1c1c1c" stroke-width="0.8"/>
<line x1="82.7" x2="84.5" y1="163" y2="163" stroke="#1c1c1c" stroke-width="0.8"/>
<line x1="112.6" x2="112.6" y1="193.4" y2="191.5" stroke="#1c1c1c" stroke-width="0.9"/>
<line x1="127.6" x2="127.6" y1="193.4" y2="191.5" stroke="#1c1c1c" stroke-width="0.9"/>
<line x1="76.90" y1="180.00" x2="76.90" y2="137.00" stroke="#333" stroke-width="1.5"/>
<polygon points="76.90,132.90 79.30,137.00 74.50,137.00" fill="#111"/>
<line x1="101.30" y1="199.00" x2="139.50" y2="199.00" stroke="#333" stroke-width="1.6"/>
<polygon points="143.60,199.00 139.50,201.40 139.50,196.60" fill="#111"/>
<text class="sm" x="83.1" y="200.7" font-size="4.1">CD45RA</text>
<text class="sm" transform="translate(78.2 192.9) rotate(-90)" font-size="4.1">CCR7</text>
</svg></body></html>
